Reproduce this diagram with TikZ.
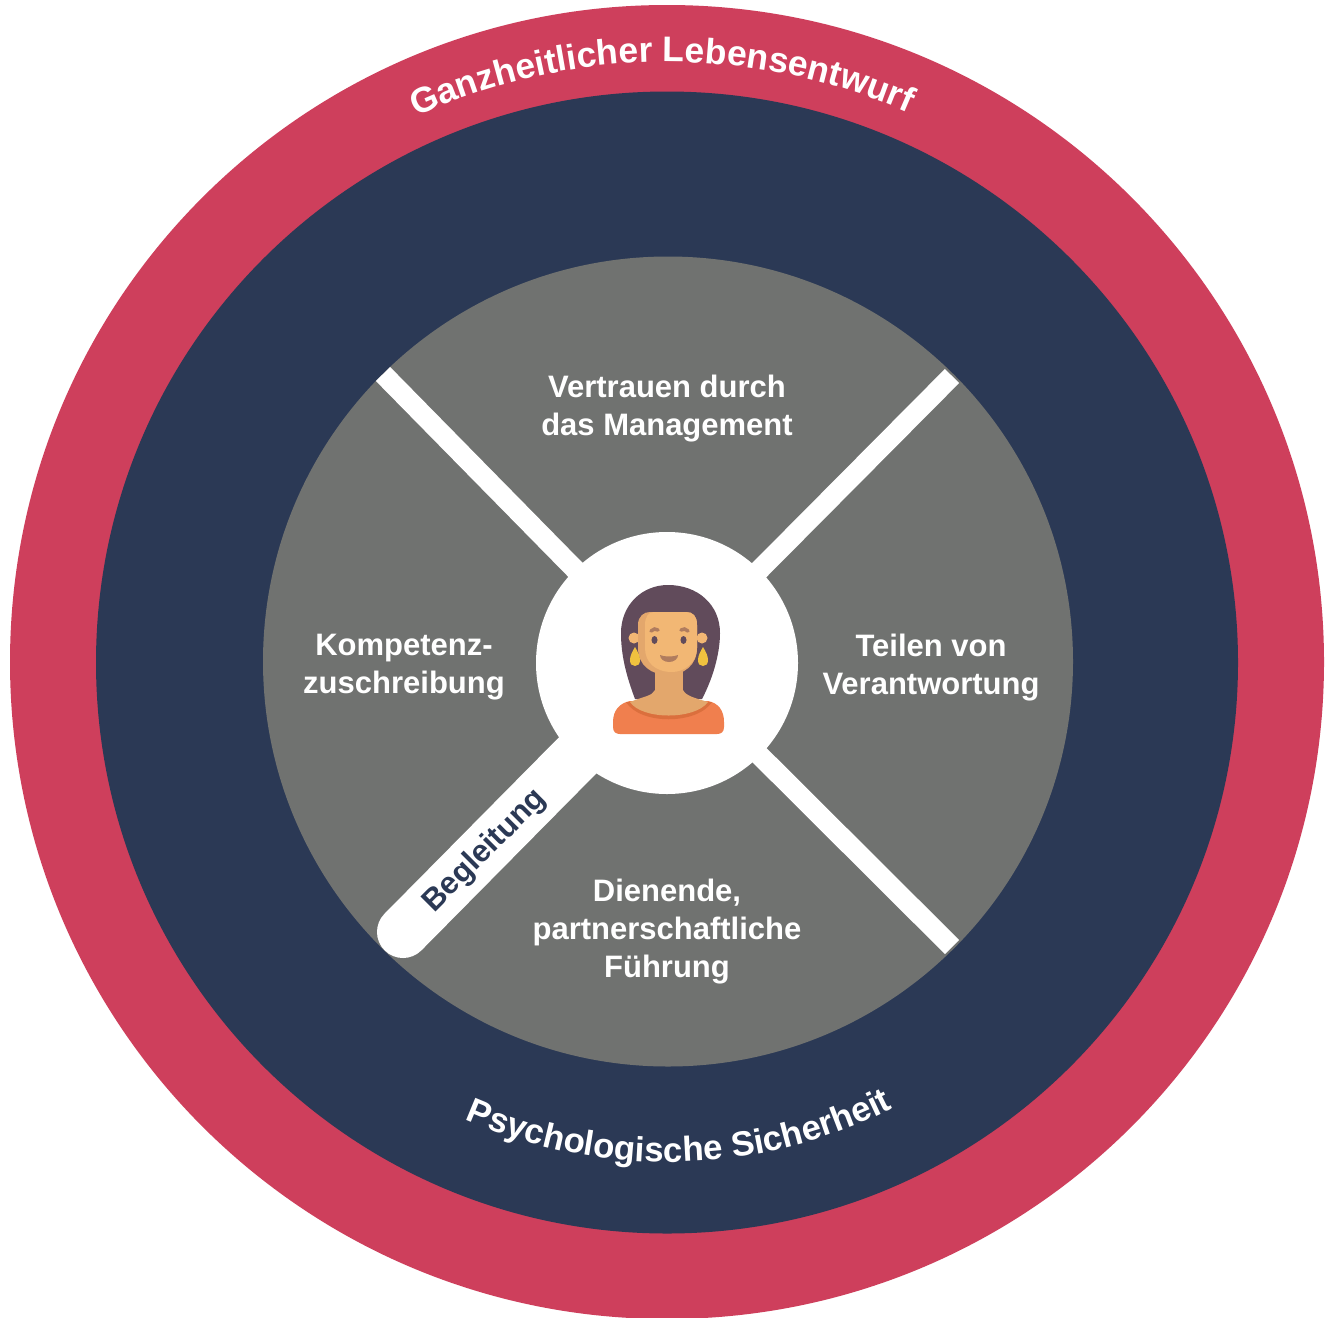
\documentclass[tikz,border=0pt]{standalone}
\usepackage{fontspec}
\setmainfont{Liberation Sans}
\usetikzlibrary{decorations.text}
\definecolor{ring}{HTML}{CE3F5C}
\definecolor{navy}{HTML}{2B3955}
\definecolor{disc}{HTML}{707270}
\definecolor{hair}{HTML}{614B5B}
\definecolor{skin}{HTML}{F2B774}
\definecolor{skind}{HTML}{E3A76C}
\definecolor{shirt}{HTML}{F07F4E}
\definecolor{collar}{HTML}{DB6F3D}
\definecolor{gold}{HTML}{F0C23F}
\definecolor{brow}{HTML}{B07C5E}
\tikzset{
  band/.style={circle,inner sep=0pt,outer sep=0pt},
  spoke/.style={draw=white,line width=20pt},
  label/.style={text=white,font=\fontsize{31}{38}\selectfont\bfseries,align=center,inner sep=0pt},
}
\begin{document}
\begin{tikzpicture}[x=1pt,y=-1pt]
\useasboundingbox (0,0) rectangle (1332,1317);
\fill[white] (0,0) rectangle (1332,1317);
\node[band,fill=ring,minimum size=1314pt] (outer) at (667,662) {};
\node[band,fill=navy,minimum size=1142pt] (middle) at (667,662.5) {};
\node[band,fill=disc,minimum size=810pt] (inner) at (668,661.5) {};
\coordinate (nw) at (383,374);
\coordinate (ne) at (952,376);
\coordinate (se) at (952,947);
\coordinate (sw) at (403,932);
\draw[spoke] (667,663) -- (nw);
\draw[spoke] (667,663) -- (ne);
\draw[spoke] (667,663) -- (se);
\draw[draw=white,line width=52pt,line cap=round] (667,663) ++(-89,92) -- (sw);
\draw[draw=white,line width=52pt] (620,710) -- (578,755);
\node[band,fill=white,minimum size=262pt] (hub) at (667,663) {};
% person
\fill[hair] (635,699) .. controls (626,675) and (621,655) .. (621,633)
  .. controls (621,605) and (642,585) .. (668,585)
  .. controls (698,585) and (720,605) .. (720,633)
  .. controls (720,655) and (712,680) .. (702,699) -- cycle;
\fill[skind] (655,660) rectangle (683,695);
\fill[shirt] (613,722) .. controls (613,710) and (620,703) .. (630,701)
  -- (708,701) .. controls (718,703) and (724,710) .. (724,722)
  -- (724,727) .. controls (724,732) and (721,734) .. (717,734)
  -- (620,734) .. controls (616,734) and (613,732) .. (613,727) -- cycle;
\fill[collar] (626,702) .. controls (640,725) and (697,725) .. (712,702) -- cycle;
\fill[skind] (630,702) .. controls (645,696) and (652,696) .. (655,690)
  -- (683,690) .. controls (686,696) and (695,698) .. (708,702)
  .. controls (695,720) and (642,720) .. (630,702) -- cycle;
\fill[skin] (634,638) circle[radius=5.5];
\fill[skin] (702,638) circle[radius=5.5];
\fill[skind] (638,625) .. controls (638,616) and (644,612) .. (650,612)
  -- (686,612) .. controls (693,612) and (697,616) .. (697,625)
  -- (697,648) .. controls (697,665) and (684,675) .. (668,675)
  .. controls (651,675) and (638,665) .. (638,648) -- cycle;
\fill[skin] (645,625) .. controls (645,616) and (649,612) .. (654,612)
  -- (686,612) .. controls (693,612) and (697,616) .. (697,625)
  -- (697,648) .. controls (697,663) and (684,672) .. (672,672)
  .. controls (655,672) and (645,662) .. (645,648) -- cycle;
\draw[brow,line width=3.5pt,line cap=round] (651,631) .. controls (653,629) and (656,628) .. (658,630);
\draw[brow,line width=3.5pt,line cap=round] (681,630) .. controls (683,628) and (686,629) .. (688,631);
\fill[hair] (654.5,640) ellipse[x radius=3,y radius=4];
\fill[hair] (683.5,640) ellipse[x radius=3,y radius=4];
\fill[brow] (660,655) .. controls (664,657) and (674,657) .. (678,655)
  .. controls (678,659) and (674,662) .. (669,662)
  .. controls (664,662) and (660,659) .. (660,655) -- cycle;
\fill[gold] (635,647) .. controls (638,652) and (640,656) .. (640,660)
  .. controls (640,664) and (638,666) .. (635,666)
  .. controls (632,666) and (630,664) .. (630,660)
  .. controls (630,656) and (632,652) .. (635,647) -- cycle;
\fill[gold] (703,647) .. controls (706,652) and (708,656) .. (708,660)
  .. controls (708,664) and (706,666) .. (703,666)
  .. controls (700,666) and (698,664) .. (698,660)
  .. controls (698,656) and (700,652) .. (703,647) -- cycle;
% labels
\node[label] (top) at (667,409) {Vertrauen durch\\das Management};
\node[label] (left) at (404,667) {Kompetenz-\\zuschreibung};
\node[label] (right) at (931,668) {Teilen von\\Verantwortung};
\node[label] (bottom) at (667,932) {Dienende,\\partnerschaftliche\\Führung};
\node[text=navy,font=\fontsize{31}{36}\selectfont\bfseries,rotate=45,inner sep=0pt] (beg) at (485,851) {Begleitung};
% curved texts
\path[decorate,decoration={text along path,text align=center,
  text={|\color{white}\fontsize{35.5}{40}\selectfont\bfseries|Ganzheitlicher Lebensentwurf}}]
  (667,662) ++(-125.5:600) arc[start angle=-125.5,end angle=-55.5,radius=600];
\path[decorate,decoration={text along path,text align=center,
  text={|\color{white}\fontsize{34.8}{40}\selectfont\bfseries|Psychologische Sicherheit}}]
  (667,662) ++(148.5:500) arc[start angle=148.5,end angle=28.5,radius=500];
\end{tikzpicture}
\end{document}
